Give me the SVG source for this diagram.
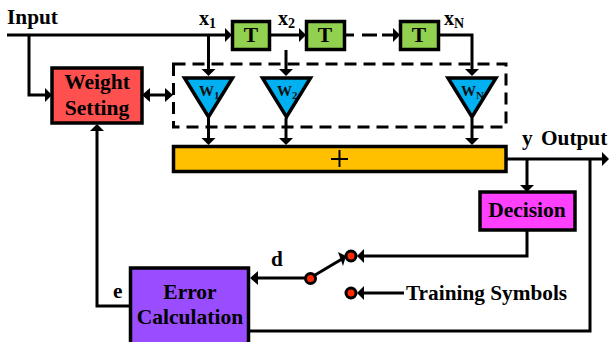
<svg xmlns="http://www.w3.org/2000/svg" width="609" height="342" viewBox="0 0 609 342">
<style>
text{font-family:"Liberation Serif","Times New Roman",serif;font-weight:bold;fill:#000}
.b{stroke:#000;stroke-width:3.500;stroke-linejoin:miter}
.l{fill:none;stroke:#000;stroke-width:3}
.d{fill:none;stroke:#000;stroke-width:3;stroke-dasharray:12 7}
.a{fill:#000;stroke:none}
.t{font-size:21.500px;text-anchor:middle}
.m{font-size:21.300px}
.w{font-size:15px;fill:#111}
.s{font-size:14px}
.c{fill:#ff2a00;stroke:#000;stroke-width:3}
</style>
<defs>
<path id="ar" class="a" d="M0 0L-7 -7V7Z"/>
<path id="ad" class="a" d="M0 0L-7 -7H7Z"/>
</defs>
<g id="connectors">
<path class="l" d="M7 35H226"/><use href="#ar" x="232" y="35"/>
<path class="l" d="M29 35V95H47"/><use href="#ar" x="52" y="95"/>
<path class="l" d="M208.500 35V71"/><use href="#ad" x="208.500" y="76"/>
<path class="l" d="M286 50V71"/><use href="#ad" x="286" y="76"/>
<path class="l" d="M270 35H300"/><use href="#ar" x="306" y="35"/>
<path class="l" d="M345 35H354"/><path class="l" d="M362 35H377"/><path class="l" d="M382 35H394"/><use href="#ar" x="400" y="35"/>
<path class="l" d="M439 35H472V71"/><use href="#ad" x="472" y="76"/>
<path class="l" d="M208.500 118V140"/><use href="#ad" x="208.500" y="145"/>
<path class="l" d="M286 118V140"/><use href="#ad" x="286" y="145"/>
<path class="l" d="M472 118V140"/><use href="#ad" x="472" y="145"/>
<path class="l" d="M148 95H167"/><path class="a" d="M142 95L150 88V102Z"/><path class="a" d="M173 95L165 88V102Z"/>
<path class="l" d="M506 159H603"/><use href="#ar" x="609" y="159"/>
<path class="l" d="M527 159V186"/><use href="#ad" x="527" y="192"/>
<path class="l" d="M527 230V256H363"/><path class="a" d="M357 256L364 249V263Z"/>
<path class="l" d="M404 293H363"/><path class="a" d="M357 293L364 286V300Z"/>
<path class="l" d="M310 278L342 259"/><path class="a" d="M346 256L338 252L343 266Z"/>
<path class="l" d="M305 278H256"/><path class="a" d="M250 278L258 271V285Z"/>
<path class="l" d="M130 306H97V130"/><path class="a" d="M97 124L90 131H104Z"/>
<path class="l" d="M248 331H590V159"/>
</g>
<rect id="dashed-box" class="d" x="173.500" y="64" width="332.500" height="63"/>
<g id="input-label"><text class="m" x="7" y="24">Input</text></g>
<g id="x1"><text x="199" y="25" font-size="20">x<tspan class="s" dy="3">1</tspan></text></g>
<g id="x2"><text x="278" y="25" font-size="20">x<tspan class="s" dy="3">2</tspan></text></g>
<g id="xn"><text x="444" y="25" font-size="20">x<tspan class="s" dy="3">N</tspan></text></g>
<g id="t1"><rect class="b" x="232.500" y="21.500" width="37" height="28" fill="#92d050"/><text class="t" x="251" y="42">T</text></g>
<g id="t2"><rect class="b" x="306.500" y="21.500" width="38" height="28" fill="#92d050"/><text class="t" x="325" y="42">T</text></g>
<g id="t3"><rect class="b" x="400.500" y="21.500" width="38" height="28" fill="#92d050"/><text class="t" x="419" y="42">T</text></g>
<g id="weight-setting"><rect class="b" x="52" y="68" width="90" height="55" fill="#ff5050"/><text class="t" x="97" y="89">Weight</text><text class="t" x="97" y="115">Setting</text></g>
<g id="w1"><path class="b" d="M184.500 78H232.500L208.500 117Z" fill="#00b0f0"/><text class="w" x="199" y="96">W<tspan font-size="11" dy="3">1</tspan></text></g>
<g id="w2"><path class="b" d="M262.500 78H310.500L286.500 117Z" fill="#00b0f0"/><text class="w" x="277" y="96">W<tspan font-size="11" dy="3">2</tspan></text></g>
<g id="wn"><path class="b" d="M448 78H496L472 117Z" fill="#00b0f0"/><text class="w" x="461" y="96">W<tspan font-size="11" dy="3">N</tspan></text></g>
<g id="adder"><rect class="b" x="173.500" y="146.500" width="332.500" height="25" fill="#ffc000"/><path class="l" style="stroke-width:2" d="M331 159H348M339.500 150V167"/></g>
<g id="output-label"><text class="m" x="522" y="145">y</text><text class="m" x="541" y="145">Output</text></g>
<g id="decision"><rect class="b" x="480" y="192" width="95" height="38" fill="#ff40ff"/><text class="t" x="527" y="217">Decision</text></g>
<g id="error-calculation"><rect class="b" x="130.500" y="268" width="118" height="76" fill="#9a4dff"/><text class="t" x="190" y="299">Error</text><text class="t" x="190" y="324">Calculation</text></g>
<g id="e-label"><text class="m" x="113" y="298">e</text></g>
<g id="d-label"><text class="m" x="271" y="266">d</text></g>
<g id="switch-a"><circle class="c" cx="351" cy="256" r="5"/></g>
<g id="switch-b"><circle class="c" cx="310.500" cy="278.500" r="5"/></g>
<g id="switch-c"><circle class="c" cx="351" cy="293" r="5"/></g>
<g id="training"><text class="m" x="406" y="300">Training Symbols</text></g>
</svg>
